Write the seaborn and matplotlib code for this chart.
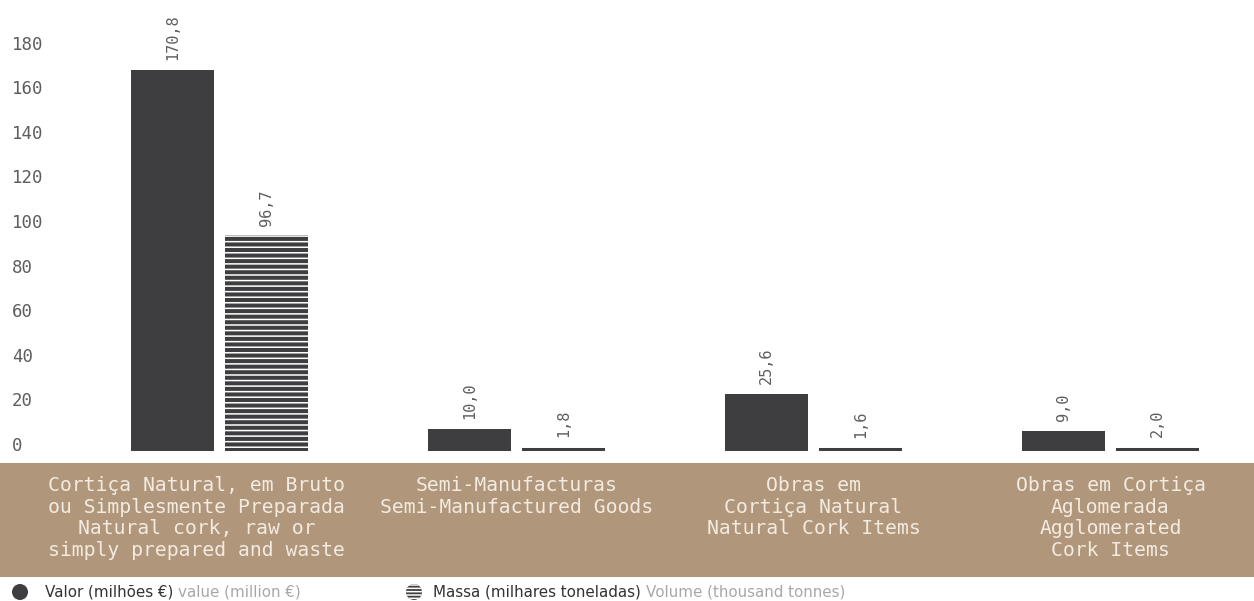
import matplotlib
matplotlib.use("Agg")
import matplotlib.pyplot as plt
from matplotlib.patches import Rectangle, Ellipse
from matplotlib.transforms import ScaledTranslation
import seaborn as sns
import pandas as pd

# Data
categories = [
    "Cortiça Natural, em Bruto\nou Simplesmente Preparada\nNatural cork, raw or\nsimply prepared and waste",
    "Semi-Manufacturas\nSemi-Manufactured Goods\n\n",
    "Obras em\nCortiça Natural\nNatural Cork Items\n",
    "Obras em Cortiça\nAglomerada\nAgglomerated\nCork Items",
]
valor = [170.8, 10.0, 25.6, 9.0]      # million €
massa = [96.7, 1.8, 1.6, 2.0]         # thousand tonnes
series = ["Valor", "Massa"]
yticks = [0, 20, 40, 60, 80, 100, 120, 140, 160, 180]

df = pd.DataFrame({
    "cat": categories * 2,
    "serie": [series[0]] * 4 + [series[1]] * 4,
    "val": valor + massa,
})

DARK = "#3e3e40"
BROWN = "#b0967b"
CREAM = "#f3ebe0"
GREY = "#5e5e5e"
MONO = "DejaVu Sans Mono"

sns.set_style("white")
plt.rcParams["font.family"] = ["DejaVu Sans"]
plt.rcParams["hatch.linewidth"] = 1.1

W, H = 1254, 601
fig = plt.figure(figsize=(W / 100, H / 100), dpi=100)
ax_left, ax_right, ax_top, ax_bot = 55, 1254, 0, 455
ax = fig.add_axes([ax_left / W, 1 - ax_bot / H, (ax_right - ax_left) / W, (ax_bot - ax_top) / H])
ax.patch.set_alpha(0)

sns.barplot(data=df, x="cat", y="val", hue="serie", hue_order=series,
            palette=[DARK, DARK], width=0.63, gap=0.11, saturation=1,
            legend=False, ax=ax)

# stripes on the volume series
n = len(categories)
bars = [p for p in ax.patches if isinstance(p, Rectangle)]
for p in bars[n:2 * n]:
    p.set_hatch("---")
    p.set_edgecolor("white")
    p.set_linewidth(0)
for p in bars[:n]:
    p.set_linewidth(0)

# value labels
for cont, vals in zip(ax.containers, [valor, massa]):
    ax.bar_label(cont, labels=[f"{v:.1f}".replace(".", ",") for v in vals],
                 rotation=90, padding=7, fontsize=11, color=GREY, family=MONO)

px = 2.23
ax.set_ylim(-4 / px, 451 / px)
ax.set_xlim((55 - 219.5) / 297, (1254 - 219.5) / 297)
ax.set_yticks(yticks)
ax.set_yticklabels([str(t) for t in yticks], family=MONO, fontsize=12.5, color=GREY)
ax.tick_params(axis="y", length=0, pad=31)
for lab in ax.get_yticklabels():
    lab.set_ha("left")
    lab.set_transform(lab.get_transform() + ScaledTranslation(0, 7 / 100, fig.dpi_scale_trans))

ax.set_xticks(range(n))
ax.set_xticklabels(categories, family=MONO, fontsize=14.2, color=CREAM,
                   linespacing=1.18, va="top", multialignment="center")
ax.tick_params(axis="x", length=0, pad=15)
xlabs = ax.get_xticklabels()
xlabs[0].set_transform(xlabs[0].get_transform() + ScaledTranslation(-23 / 100, 0, fig.dpi_scale_trans))
ax.set_xlabel("")
ax.set_ylabel("")
sns.despine(ax=ax, left=True, bottom=True)

# category band
fig.add_artist(Rectangle((0, 1 - 577 / H), 1, (577 - 463) / H,
                         transform=fig.transFigure, facecolor=BROWN,
                         edgecolor="none", zorder=-1))

# legend
ly = 1 - 592 / H
fig.add_artist(Ellipse((20 / W, ly), 16 / W, 16 / H, transform=fig.transFigure,
                       facecolor=DARK, edgecolor="none"))
e2 = Ellipse((414 / W, ly), 16 / W, 16 / H, transform=fig.transFigure,
             facecolor=DARK, edgecolor="white", linewidth=0, hatch="-----")
fig.add_artist(e2)

LEG = ["DejaVu Sans"]
LFS = 10.9
t1 = fig.text(45 / W, ly, "Valor (milhões €)", family=LEG, fontsize=LFS,
              color="#333333", va="center")
fig.canvas.draw()
bb = t1.get_window_extent()
fig.text((bb.x1 + 5) / W, ly, "value (million €)", family=LEG, fontsize=LFS,
         color="#a8a8a8", va="center")
t3 = fig.text(433 / W, ly, "Massa (milhares toneladas)", family=LEG, fontsize=LFS,
              color="#333333", va="center")
fig.canvas.draw()
bb = t3.get_window_extent()
fig.text((bb.x1 + 5) / W, ly, "Volume (thousand tonnes)", family=LEG, fontsize=LFS,
         color="#a8a8a8", va="center")

fig.savefig("out.png", dpi=100, facecolor="white")
